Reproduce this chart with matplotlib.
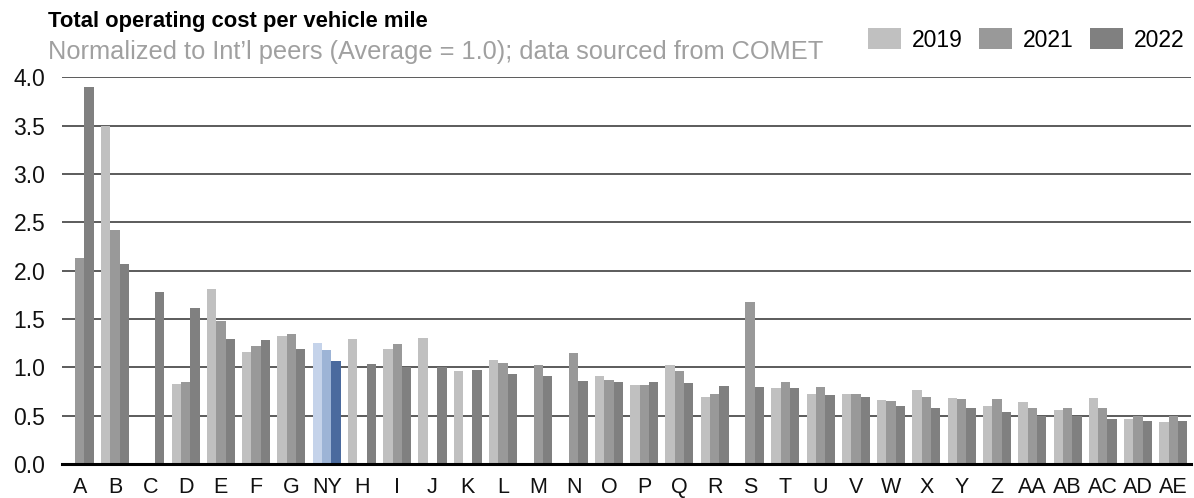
import numpy as np
import matplotlib
matplotlib.use("Agg")
import matplotlib.pyplot as plt
from matplotlib.patches import Patch

plt.rcParams["font.family"] = ["Liberation Sans", "DejaVu Sans"]

categories = ["A", "B", "C", "D", "E", "F", "G", "NY", "H", "I", "J", "K", "L",
              "M", "N", "O", "P", "Q", "R", "S", "T", "U", "V", "W", "X", "Y",
              "Z", "AA", "AB", "AC", "AD", "AE"]

# NaN = no data for that year
v2019 = [np.nan, 3.50, np.nan, 0.83, 1.81, 1.16, 1.32, 1.25, 1.29, 1.19, 1.30,
         0.96, 1.08, np.nan, np.nan, 0.91, 0.82, 1.02, 0.69, np.nan, 0.79, 0.73,
         0.73, 0.66, 0.77, 0.68, 0.60, 0.64, 0.56, 0.68, 0.47, 0.44]
v2021 = [2.13, 2.42, np.nan, 0.85, 1.48, 1.22, 1.35, 1.18, np.nan, 1.24, np.nan,
         np.nan, 1.05, 1.02, 1.15, 0.87, 0.82, 0.96, 0.72, 1.68, 0.85, 0.80,
         0.72, 0.65, 0.69, 0.67, 0.67, 0.58, 0.58, 0.58, 0.50, 0.50]
v2022 = [3.90, 2.07, 1.78, 1.61, 1.29, 1.28, 1.19, 1.07, 1.03, 1.00, 1.00,
         0.97, 0.93, 0.91, 0.86, 0.85, 0.85, 0.84, 0.81, 0.80, 0.79, 0.71,
         0.69, 0.60, 0.58, 0.58, 0.54, 0.50, 0.50, 0.47, 0.45, 0.45]

years = ["2019", "2021", "2022"]
gray = {"2019": "#c0c0c0", "2021": "#999999", "2022": "#808080"}
blue = {"2019": "#c5d3ea", "2021": "#9db4d6", "2022": "#4a6a9e"}
highlight = "NY"

fig = plt.figure(figsize=(11.94, 4.98), dpi=100)
ax = fig.add_axes([0.052, 0.068, 0.9455, 0.777])

x = np.arange(len(categories))
w = 0.265
for i, (yr, vals) in enumerate(zip(years, [v2019, v2021, v2022])):
    cols = [blue[yr] if c == highlight else gray[yr] for c in categories]
    ax.bar(x + (i - 1) * w, vals, width=w, color=cols, zorder=3)

ax.set_xlim(-0.5, len(categories) - 0.5)
ax.set_ylim(0, 4.0)
ax.set_yticks(np.arange(0, 4.01, 0.5))
ax.set_yticklabels([f"{t:.1f}" for t in np.arange(0, 4.01, 0.5)])
ax.set_xticks(x)
ax.set_xticklabels(categories)
ax.tick_params(axis="y", length=0, pad=12, labelsize=16.5, colors="#111111")
ax.tick_params(axis="x", length=0, pad=9, labelsize=15.5, colors="#111111")

ax.grid(axis="y", color="#404040", linewidth=1.2, zorder=0)
ax.axhline(0, color="black", linewidth=2.2, zorder=4, clip_on=False)
for s in ax.spines.values():
    s.set_visible(False)

fig.text(0.040, 0.946, "Total operating cost per vehicle mile", fontsize=15.8,
         fontweight="bold", color="black", va="baseline")
fig.text(0.040, 0.881, "Normalized to Int\u2019l peers (Average = 1.0); data sourced from COMET",
         fontsize=18.3, color="#a0a0a0", va="baseline")

handles = [Patch(facecolor=gray[y], label=y) for y in years]
fig.legend(handles=handles, loc="center right", bbox_to_anchor=(0.992, 0.92),
           ncol=3, frameon=False, fontsize=16.5, handlelength=1.44,
           handleheight=1.05, handletextpad=0.48, columnspacing=0.7,
           borderaxespad=0, borderpad=0)

fig.savefig("out.png", dpi=100)
